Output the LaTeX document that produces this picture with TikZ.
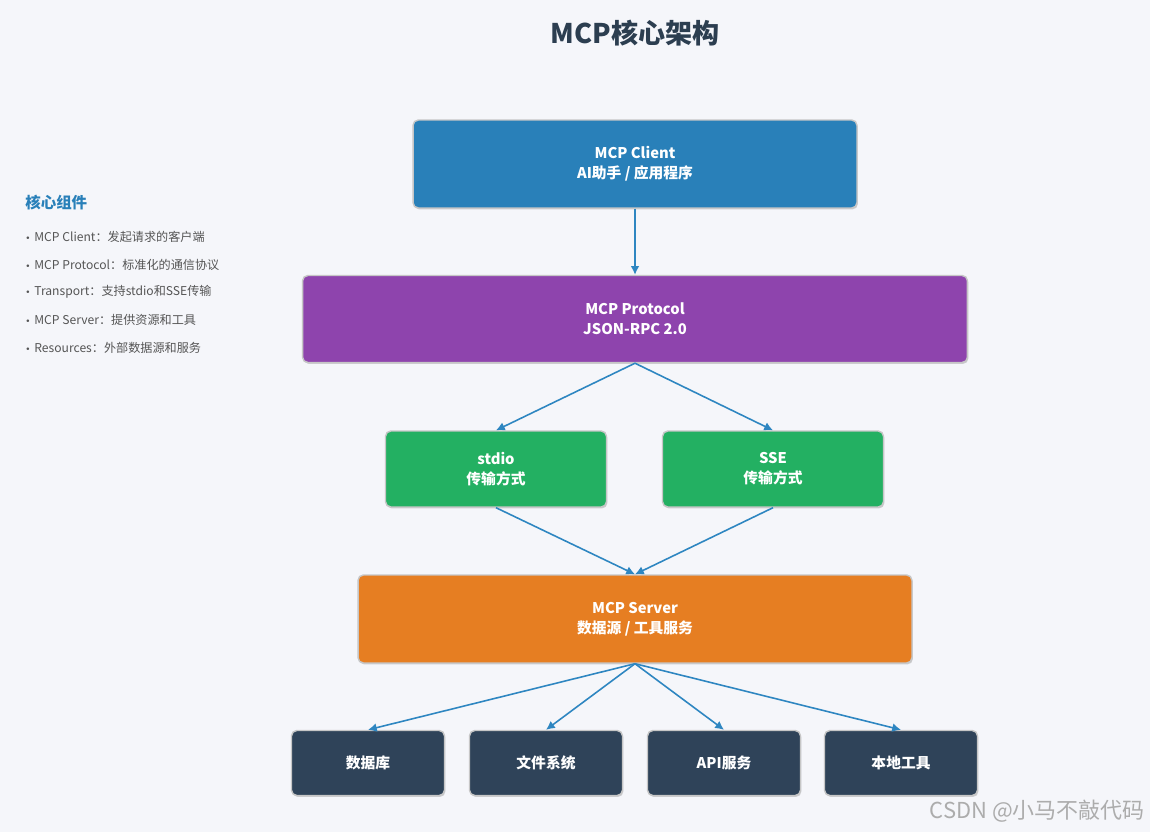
\documentclass[tikz,border=0pt]{standalone}
\usepackage{fontspec}
\setmainfont{Noto Sans CJK SC}
\newfontfamily\dvfont{DejaVu Sans}
\usetikzlibrary{arrows.meta,shadows}
\definecolor{bg}{HTML}{F5F6FA}
\definecolor{cblue}{HTML}{2980B9}
\definecolor{cpurple}{HTML}{8E44AD}
\definecolor{cgreen}{HTML}{23B062}
\definecolor{corange}{HTML}{E67E22}
\definecolor{cdark}{HTML}{2F4359}
\definecolor{ctitle}{HTML}{2C3E50}
\definecolor{carrow}{HTML}{2E86C1}
\definecolor{ctext}{HTML}{555555}
\newcommand{\blt}{{\dvfont\fontsize{5}{6}\selectfont •}\hspace{2.2pt}}
\begin{document}
\begin{tikzpicture}[x=0.02cm,y=-0.02cm,
  box/.style={rounded corners=3pt,draw=gray!45,line width=0.8pt,
    drop shadow={shadow xshift=0.5pt,shadow yshift=-0.8pt,opacity=0.35},
    text=white,font=\bfseries\fontsize{8.4}{11.5}\selectfont,align=center,inner sep=0pt},
  conn/.style={draw=carrow,line width=0.9pt,-{Latex[length=5pt,width=5pt]}},
  item/.style={anchor=west,text=ctext,font=\fontsize{6.9}{8}\selectfont,inner sep=0pt}]
\fill[bg] (0,0) rectangle (1150,832);
\useasboundingbox (0,0) rectangle (1150,832);
\node[text=ctitle,font=\bfseries\fontsize{15.4}{17}\selectfont] (title) at (635,33) {MCP核心架构};
% legend
\node[anchor=west,text=cblue,font=\bfseries\fontsize{8.8}{10}\selectfont,inner sep=0pt] (lt) at (25,203) {核心组件};
\node[item] (l1) at (25,237) {\blt MCP Client：发起请求的客户端};
\node[item] (l2) at (25,265) {\blt MCP Protocol：标准化的通信协议};
\node[item] (l3) at (25,292) {\blt Transport：支持stdio和SSE传输};
\node[item] (l4) at (25,320) {\blt MCP Server：提供资源和工具};
\node[item] (l5) at (25,348) {\blt Resources：外部数据源和服务};
% boxes
\node[box,fill=cblue,minimum width=8.88cm,minimum height=1.76cm] (client) at (635,164) {MCP Client\\AI助手 / 应用程序};
\node[box,fill=cpurple,minimum width=13.3cm,minimum height=1.74cm] (proto) at (635,319) {MCP Protocol\\JSON-RPC 2.0};
\node[box,fill=cgreen,minimum width=4.42cm,minimum height=1.52cm] (stdio) at (496,469) {stdio\\传输方式};
\node[box,fill=cgreen,minimum width=4.42cm,minimum height=1.52cm] (sse) at (773,469) {SSE\\传输方式};
\node[box,fill=corange,minimum width=11.08cm,minimum height=1.76cm] (server) at (635,619) {MCP Server\\数据源 / 工具服务};
\node[box,fill=cdark,minimum width=3.06cm,minimum height=1.3cm] (db) at (368,763) {数据库};
\node[box,fill=cdark,minimum width=3.06cm,minimum height=1.3cm] (fs) at (546,763) {文件系统};
\node[box,fill=cdark,minimum width=3.06cm,minimum height=1.3cm] (api) at (724,763) {API服务};
\node[box,fill=cdark,minimum width=3.06cm,minimum height=1.3cm] (tool) at (901,763) {本地工具};
% connectors
\draw[conn] (client.south) -- (proto.north);
\draw[conn] (proto.south) -- (stdio.north);
\draw[conn] (proto.south) -- (sse.north);
\draw[conn] (stdio.south) -- (server.north);
\draw[conn] (sse.south) -- (server.north);
\draw[conn] (server.south) -- (db.north);
\draw[conn] (server.south) -- (fs.north);
\draw[conn] (server.south) -- (api.north);
\draw[conn] (server.south) -- (tool.north);
% watermark
\node[anchor=east,text=gray!65,font=\fontsize{12.5}{14}\selectfont,inner sep=0pt] (wm) at (1145,811) {CSDN @小马不敲代码};
\end{tikzpicture}
\end{document}
